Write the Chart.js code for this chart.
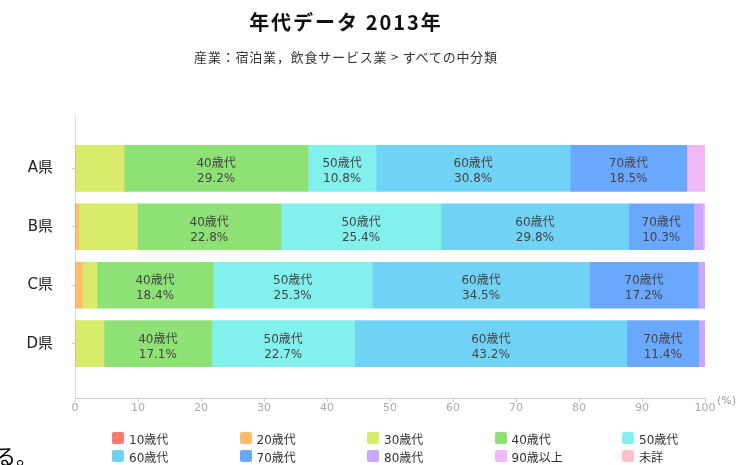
<!DOCTYPE html>
<html lang="ja">
<head>
<meta charset="utf-8">
<script src="https://cdn.jsdelivr.net/npm/chart.js@4/dist/chart.umd.min.js"></script>
<style>
  body { margin: 0; background: #fff; }
  #wrap { position: relative; width: 740px; height: 465px; overflow: hidden; }
  .head { position: absolute; left: 0; width: 692px; text-align: center; white-space: nowrap;
    font-family: "Noto Sans CJK JP", sans-serif; }
  #title { top: 9px; font-size: 20px; font-weight: bold; letter-spacing: 2px; color: #111; line-height: 26px; }
  #subtitle { top: 48px; font-size: 13px; letter-spacing: 0.8px; color: #333; line-height: 18px; }
  #legend { position: absolute; left: 112px; top: 429px; display: grid;
    grid-template-columns: repeat(5, 127.5px); grid-auto-rows: 18px;
    font-family: "DejaVu Sans", "Noto Sans CJK JP", sans-serif; font-size: 12px; color: #333; }
  #legend .item { display: flex; align-items: center; white-space: nowrap; }
  #legend .box { width: 12px; height: 12px; border-radius: 2px; margin-right: 5px; }
  #tail { position: absolute; left: -5px; top: 440px; font-family: "Noto Sans CJK JP", sans-serif;
    font-size: 21px; color: #000; }
</style>
</head>
<body>
<div id="wrap">
  <canvas id="chart" width="740" height="465"></canvas>
  <div id="title" class="head">年代データ 2013年</div>
  <div id="subtitle" class="head">産業：宿泊業，飲食サービス業 &gt; すべての中分類</div>
  <div id="legend"></div>
  <div id="tail">る。</div>
</div>
<script>
// 都道府県
const prefectures = ['A県', 'B県', 'C県', 'D県'];
// 年代区分
const ageGroups = ['10歳代', '20歳代', '30歳代', '40歳代', '50歳代', '60歳代', '70歳代', '80歳代', '90歳以上', '未詳'];
const ageColors = ['#ff7a6b', '#ffbd6b', '#d8eb6a', '#8ee275', '#82f0ec', '#70d3f5', '#6aa8ff', '#c9a9ff', '#f0b9f6', '#ffc1cb'];

// 構成比 (%)  A県, B県, C県, D県
const age10 = [0, 0, 0, 0];
const age20 = [0, 0.6, 1.2, 0];
const age30 = [7.8, 9.3, 2.3, 4.6];
const age40 = [29.2, 22.8, 18.4, 17.1];
const age50 = [10.8, 25.4, 25.3, 22.7];
const age60 = [30.8, 29.8, 34.5, 43.2];
const age70 = [18.5, 10.3, 17.2, 11.4];
const age80 = [0, 1.5, 1.1, 1.0];
const age90 = [2.9, 0.3, 0, 0];
const ageUnknown = [0, 0, 0, 0];

const xTicks = [0, 10, 20, 30, 40, 50, 60, 70, 80, 90, 100];

const seriesValues = [age10, age20, age30, age40, age50, age60, age70, age80, age90, ageUnknown];

const datasets = ageGroups.map((name, k) => ({
  label: name,
  data: seriesValues[k].map((v, i) => ({ x: v, y: i })),
  backgroundColor: ageColors[k],
  borderWidth: 0,
  barThickness: 46
}));

// バーの中にラベルを書く (10%以上のみ)
const barLabels = {
  id: 'barLabels',
  afterDatasetsDraw(chart) {
    const ctx = chart.ctx;
    ctx.save();
    ctx.font = '12px "DejaVu Sans", "Noto Sans CJK JP", sans-serif';
    ctx.fillStyle = '#444';
    ctx.textAlign = 'center';
    ctx.textBaseline = 'middle';
    chart.data.datasets.forEach((ds, i) => {
      const meta = chart.getDatasetMeta(i);
      meta.data.forEach((bar, j) => {
        const v = ds.data[j].x;
        if (v < 10) return;
        const cx = (bar.x + bar.base) / 2;
        ctx.fillText(ds.label, cx, bar.y - 4);
        ctx.fillText(v.toFixed(1) + '%', cx, bar.y + 11);
      });
    });
    ctx.restore();
  }
};

// 軸の単位
const unitLabel = {
  id: 'unitLabel',
  afterDraw(chart) {
    const ctx = chart.ctx;
    const area = chart.chartArea;
    ctx.save();
    ctx.font = '11px "DejaVu Sans", sans-serif';
    ctx.fillStyle = '#999';
    ctx.textAlign = 'left';
    ctx.textBaseline = 'middle';
    ctx.fillText('(%)', area.right + 12, area.bottom + 3);
    ctx.restore();
  }
};

const ctx = document.getElementById('chart').getContext('2d');
const chart = new Chart(ctx, {
  type: 'bar',
  data: { datasets },
  options: {
    responsive: false,
    animation: false,
    indexAxis: 'y',
    layout: { padding: { left: 0, right: 35, top: 114, bottom: 0 } },
    plugins: {
      legend: { display: false },
      tooltip: { enabled: false }
    },
    scales: {
      x: {
        type: 'linear',
        stacked: true,
        min: 0,
        max: 100,
        afterBuildTicks: (scale) => { scale.ticks = xTicks.map(v => ({ value: v })); },
        afterFit: (scale) => { scale.height = 67; },
        border: { display: true, color: '#ccc' },
        grid: { drawOnChartArea: false, tickLength: 4, color: '#ccc' },
        ticks: {
          color: '#aaa',
          padding: 0,
          font: { family: '"DejaVu Sans", sans-serif', size: 11 }
        }
      },
      y: {
        type: 'linear',
        stacked: true,
        reverse: true,
        offset: false,
        min: -0.93,
        max: 3.93,
        afterBuildTicks: (scale) => { scale.ticks = prefectures.map((p, i) => ({ value: i })); },
        afterFit: (scale) => { scale.width = 75; },
        border: { display: true, color: '#ddd' },
        grid: { drawOnChartArea: false, offset: false, tickLength: 3, color: '#ccc' },
        ticks: {
          color: '#222',
          padding: 19,
          font: { family: '"DejaVu Sans", "Noto Sans CJK JP", sans-serif', size: 15 },
          callback: (v) => prefectures[v] ?? ''
        }
      }
    }
  },
  plugins: [barLabels, unitLabel]
});

// 凡例
const legendEl = document.getElementById('legend');
ageGroups.forEach((name, k) => {
  const item = document.createElement('div');
  item.className = 'item';
  const box = document.createElement('span');
  box.className = 'box';
  box.style.background = ageColors[k];
  item.appendChild(box);
  item.appendChild(document.createTextNode(name));
  legendEl.appendChild(item);
});
</script>
</body>
</html>
